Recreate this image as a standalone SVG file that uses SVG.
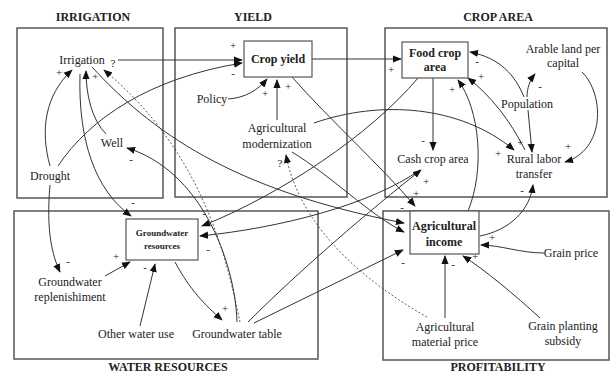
<svg xmlns="http://www.w3.org/2000/svg" width="611" height="375" viewBox="0 0 611 375">
<style>
text{font-family:"Liberation Serif","Times New Roman",serif;fill:#222;}
.t{font-size:12px;text-anchor:middle;}
.title{font-size:12px;font-weight:bold;text-anchor:middle;}
.b{font-size:12px;font-weight:bold;text-anchor:middle;}
.s{font-size:9px;font-weight:bold;text-anchor:middle;}
.p{font-size:11px;text-anchor:middle;}
.panel{fill:none;stroke:#555;stroke-width:1.5;}
.node{fill:#fff;stroke:#555;stroke-width:1.2;}
.c{fill:none;stroke:#333;stroke-width:1;marker-end:url(#ah);}
.d{fill:none;stroke:#333;stroke-width:0.8;stroke-dasharray:2 2;marker-end:url(#ah);}
</style>
<defs>
<marker id="ah" viewBox="0 0 10 10" refX="9" refY="5" markerWidth="9" markerHeight="9" markerUnits="userSpaceOnUse" orient="auto">
<path d="M0,1 L10,5 L0,9 z" fill="#111"/>
</marker>
</defs>
<rect width="611" height="375" fill="#fff"/>
<g id="panels">
<rect class="panel" x="17" y="28" width="146" height="170"/>
<rect class="panel" x="175" y="28" width="172" height="169"/>
<rect class="panel" x="385" y="28" width="222" height="169"/>
<rect class="panel" x="14" y="211" width="304" height="148"/>
<rect class="panel" x="383" y="211" width="226" height="149"/>
<text class="title" x="93" y="21">IRRIGATION</text>
<text class="title" x="253" y="21">YIELD</text>
<text class="title" x="498" y="21">CROP AREA</text>
<text class="title" x="168" y="371">WATER RESOURCES</text>
<text class="title" x="498" y="371">PROFITABILITY</text>
</g>
<g id="connectors">
<path class="c" d="M118 60 L242 60"/>
<path class="c" d="M58 166 C90 118 150 78 242 63"/>
<path class="c" d="M50 166 C40 130 45 95 72 70"/>
<path class="c" d="M106 134 C92 120 86 95 86 71"/>
<path class="c" d="M80 74 C78 140 95 190 131 216"/>
<path class="d" d="M240 322 C225 250 200 150 104 70"/>
<path class="c" d="M237 322 C235 260 200 170 127 148"/>
<path class="c" d="M92 67 C150 130 230 190 404 223"/>
<path class="c" d="M292 152 C330 175 370 215 404 232"/>
<path class="c" d="M292 77 C330 120 380 165 415 206"/>
<path class="c" d="M418 78 C370 135 280 195 202 226"/>
<path class="c" d="M420 170 C370 205 280 228 200 236"/>
<path class="c" d="M248 322 C300 270 370 210 421 170"/>
<path class="c" d="M254 323 L403 250"/>
<path class="c" d="M314 123 C380 100 460 105 514 150"/>
<path class="c" d="M312 59 L401 59"/>
<path class="c" d="M433 78 L433 150"/>
<path class="c" d="M228 99 C245 98 258 90 267 79"/>
<path class="c" d="M277 120 L277 80"/>
<path class="c" d="M468 211 C485 170 480 110 458 80"/>
<path class="c" d="M525 150 C510 120 490 95 468 78"/>
<path class="c" d="M524 97 C515 75 500 58 470 52"/>
<path class="c" d="M527 97 C527 88 530 80 535 74"/>
<path class="c" d="M528 110 L532 152"/>
<path class="c" d="M582 72 C605 95 605 150 565 162"/>
<path class="c" d="M480 236 C510 230 530 210 533 185"/>
<path class="c" d="M544 253 C520 253 500 245 481 245"/>
<path class="c" d="M540 318 C515 295 485 270 463 256"/>
<path class="c" d="M445 318 L445 256"/>
<path class="d" d="M427 317 C370 285 300 230 286 155"/>
<path class="c" d="M175 262 C190 290 205 305 222 320"/>
<path class="c" d="M105 276 L130 262"/>
<path class="c" d="M140 326 L155 264"/>
<path class="c" d="M50 185 C46 230 52 255 60 272"/>
</g>
<g id="polarities">
<text class="p" x="59" y="76">+</text>
<text class="p" x="95" y="80">+</text>
<text class="p" x="113" y="67">?</text>
<text class="p" x="131" y="163">-</text>
<text class="p" x="233" y="49">+</text>
<text class="p" x="233" y="77">-</text>
<text class="p" x="265" y="97">+</text>
<text class="p" x="288" y="90">+</text>
<text class="p" x="280" y="167">?</text>
<text class="p" x="391" y="73">+</text>
<text class="p" x="423" y="144">-</text>
<text class="p" x="452" y="93">+</text>
<text class="p" x="477" y="65">-</text>
<text class="p" x="481" y="80">+</text>
<text class="p" x="540" y="90">-</text>
<text class="p" x="520" y="146">+</text>
<text class="p" x="498" y="157">+</text>
<text class="p" x="568" y="150">+</text>
<text class="p" x="426" y="185">+</text>
<text class="p" x="416" y="197">+</text>
<text class="p" x="402" y="211">-</text>
<text class="p" x="403" y="266">-</text>
<text class="p" x="453" y="268">-</text>
<text class="p" x="475" y="260">+</text>
<text class="p" x="492" y="241">+</text>
<text class="p" x="522" y="194">-</text>
<text class="p" x="133" y="206">-</text>
<text class="p" x="204" y="217">-</text>
<text class="p" x="208" y="253">-</text>
<text class="p" x="116" y="260">+</text>
<text class="p" x="145" y="271">-</text>
<text class="p" x="225" y="312">+</text>
<text class="p" x="68" y="265">-</text>
</g>
<g id="n-cropyield"><rect class="node" x="244" y="41" width="68" height="36"/><text class="b" x="278" y="63">Crop yield</text></g>
<g id="n-foodcrop"><rect class="node" x="402" y="42" width="66" height="36"/><text class="b" x="435" y="57">Food crop</text><text class="b" x="435" y="71">area</text></g>
<g id="n-gwres"><rect class="node" x="126" y="219" width="72" height="41"/><text class="s" x="162" y="236">Groundwater</text><text class="s" x="162" y="249">resources</text></g>
<g id="n-income"><rect class="node" x="410" y="211" width="69" height="43"/><text class="b" x="444" y="230">Agricultural</text><text class="b" x="444" y="246">income</text></g>
<g id="n-irrigation"><text class="t" x="82" y="64">Irrigation</text></g>
<g id="n-well"><text class="t" x="112" y="147">Well</text></g>
<g id="n-drought"><text class="t" x="50" y="180">Drought</text></g>
<g id="n-policy"><text class="t" x="212" y="103">Policy</text></g>
<g id="n-modern"><text class="t" x="277" y="132">Agricultural</text><text class="t" x="277" y="148">modernization</text></g>
<g id="n-arable"><text class="t" x="563" y="53">Arable land per</text><text class="t" x="563" y="67">capital</text></g>
<g id="n-population"><text class="t" x="527" y="108">Population</text></g>
<g id="n-cashcrop"><text class="t" x="433" y="163">Cash crop area</text></g>
<g id="n-rural"><text class="t" x="534" y="163">Rural labor</text><text class="t" x="534" y="178">transfer</text></g>
<g id="n-replen"><text class="t" x="70" y="286">Groundwater</text><text class="t" x="70" y="301">replenishiment</text></g>
<g id="n-otherwater"><text class="t" x="136" y="338">Other water use</text></g>
<g id="n-gwtable"><text class="t" x="237" y="338">Groundwater table</text></g>
<g id="n-grainprice"><text class="t" x="571" y="257">Grain price</text></g>
<g id="n-matprice"><text class="t" x="445" y="331">Agricultural</text><text class="t" x="445" y="346">material price</text></g>
<g id="n-subsidy"><text class="t" x="563" y="330">Grain planting</text><text class="t" x="563" y="345">subsidy</text></g>
</svg>
